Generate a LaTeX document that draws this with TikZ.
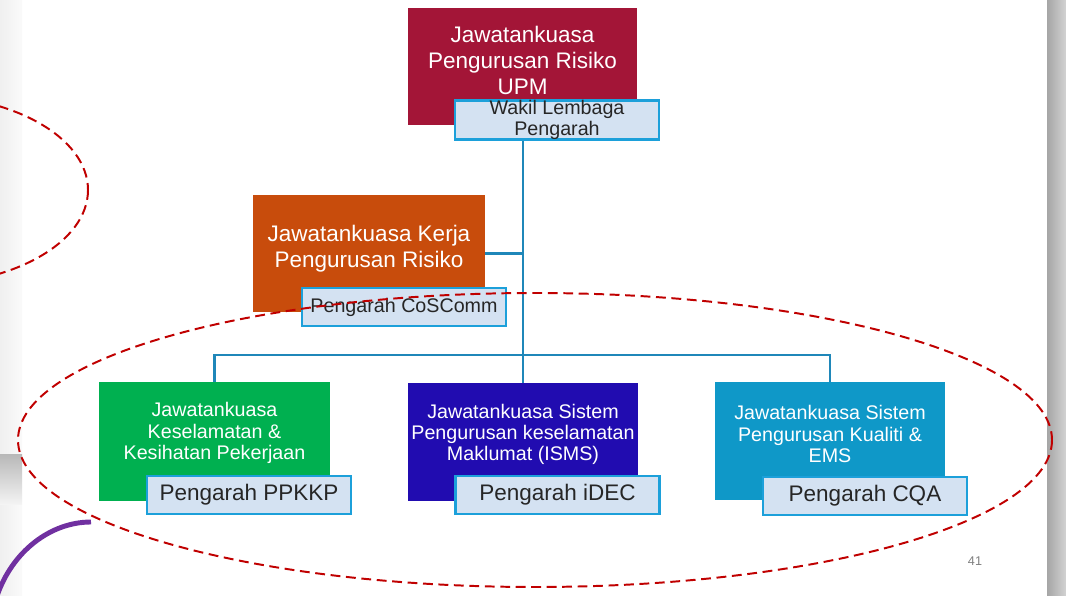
\documentclass[tikz,border=0pt]{standalone}
\usepackage{fontspec}
\setmainfont{Liberation Sans}
\definecolor{riskred}{RGB}{163,21,55}
\definecolor{kerjaorange}{RGB}{200,76,12}
\definecolor{kkpgreen}{RGB}{0,176,80}
\definecolor{ismsblue}{RGB}{33,12,176}
\definecolor{cqacyan}{RGB}{15,152,200}
\definecolor{tagfill}{RGB}{212,226,242}
\definecolor{tagblue}{RGB}{28,160,218}
\definecolor{linkblue}{RGB}{31,135,185}
\definecolor{ringred}{RGB}{192,0,0}
\definecolor{arcpurple}{RGB}{112,48,160}
\usepackage{tikz}
\usetikzlibrary{shapes,arrows,positioning,calc}

\begin{document}
\begin{tikzpicture}[x=0.025cm, y=-0.025cm,
    box/.style={minimum width=5.75cm, minimum height=2.95cm, inner sep=0pt},
    boxtext/.style={inner sep=0pt, align=center, text=white, font=\fontsize{14}{15}\selectfont},
    tag/.style={draw=tagblue, line width=2pt, fill=tagfill, text=black!85, minimum width=5.1cm, minimum height=0.95cm, inner sep=0pt, align=center, font=\fontsize{16}{18}\selectfont},
    link/.style={draw=linkblue, line width=2pt},
    ring/.style={draw=ringred, dash pattern=on 7pt off 4pt, line width=1.4pt}]
  \useasboundingbox (0,0) rectangle (1066,596);
  % slide edges
  \shade[left color=gray!12, right color=gray!4] (0,0) rectangle (22,596);
  \shade[top color=gray!55, bottom color=gray!8] (0,455) rectangle (22,505);
  \shade[left color=gray!70, right color=gray!35] (1047,0) rectangle (1066,596);
  \draw[arcpurple, line width=3.5pt] (91,522) .. controls (50,522) and (12,552) .. (-3,596);

  \node[box, fill=riskred, minimum width=5.725cm, minimum height=2.925cm] (risk) at (522.5,66.5) {};
  \node[boxtext, font=\fontsize{16}{18.5}\selectfont] (risktext) at (522.5,60) {Jawatankuasa\\Pengurusan Risiko\\UPM};
  \node[tag, font=\fontsize{14}{15}\selectfont] (wakil) at (557,120) {Wakil Lembaga\\Pengarah};
  \node[box, fill=kerjaorange, minimum width=5.8cm, minimum height=2.925cm] (kerja) at (369,253.5) {};
  \node[boxtext, font=\fontsize{16}{18.5}\selectfont] (kerjatext) at (369,249) {Jawatankuasa Kerja\\Pengurusan Risiko};
  \node[tag, font=\fontsize{14}{15}\selectfont] (coscomm) at (404,307) {Pengarah CoSComm};

  \node[box, fill=kkpgreen] (kkp) at (214.5,441.5) {};
  \node[boxtext] (kkptext) at (214.5,433) {Jawatankuasa\\Keselamatan \&\\Kesihatan Pekerjaan};
  \node[tag] (ppkkp) at (249,495) {Pengarah PPKKP};
  \node[box, fill=ismsblue] (isms) at (523,442) {};
  \node[boxtext] (ismstext) at (523,434) {Jawatankuasa Sistem\\Pengurusan keselamatan\\Maklumat (ISMS)};
  \node[tag] (idec) at (557.5,495) {Pengarah iDEC};
  \node[box, fill=cqacyan] (cqa) at (830,441) {};
  \node[boxtext] (cqatext) at (830,434) {Jawatankuasa Sistem\\Pengurusan Kualiti \&\\EMS};
  \node[tag] (cqatag) at (865,496) {Pengarah CQA};

  \coordinate (bus) at (523,355);
  \draw[link] (isms.north |- wakil.south) -- (isms.north);
  \draw[link] (kerja.east) -- (kerja.east -| isms.north);
  \draw[link] (kkp.north) |- (bus) -| (cqa.north);

  \node[text=gray, font=\fontsize{9}{10}\selectfont] (pagenum) at (975,561) {41};

  \draw[ring] (-80,190) ellipse [x radius=168, y radius=95];
  \draw[ring] (535,440) ellipse [x radius=517, y radius=147];
\end{tikzpicture}
\end{document}
